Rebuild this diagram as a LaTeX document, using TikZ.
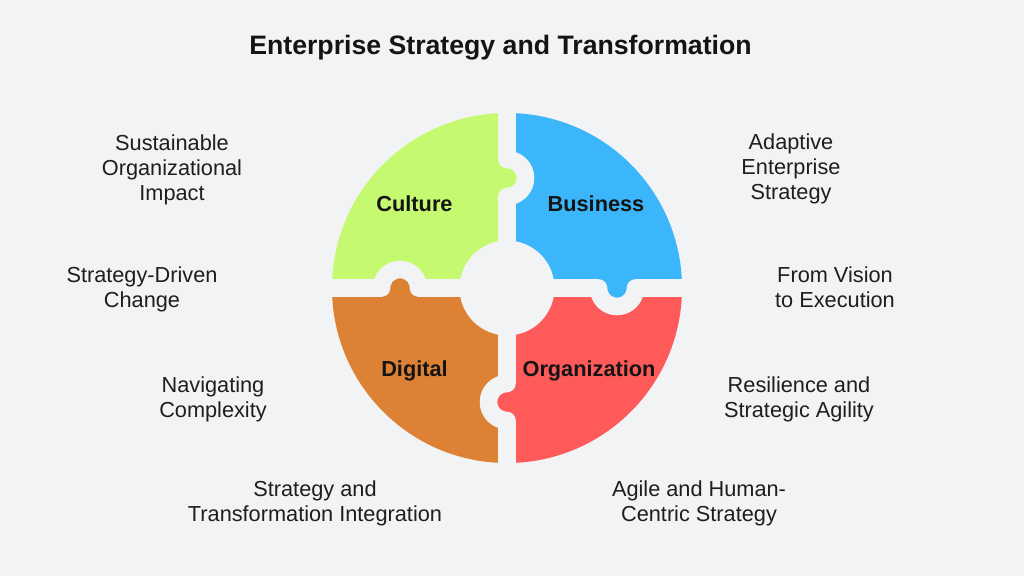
\documentclass[tikz,border=0pt]{standalone}
\usepackage{fontspec}
\setmainfont{Liberation Sans}
\definecolor{bg}{RGB}{241,243,244}
\definecolor{cgreen}{RGB}{197,249,112}
\definecolor{cblue}{RGB}{59,182,250}
\definecolor{corange}{RGB}{221,130,52}
\definecolor{cred}{RGB}{254,90,90}
\definecolor{txt}{RGB}{30,30,30}
\begin{document}
\begin{tikzpicture}[x=0.75pt,y=0.75pt,
  gapline/.style={draw=bg,line width=13.2pt,line join=round},
  sidelabel/.style={align=center,text=txt,anchor=base,inner sep=0pt,font=\fontsize{16.3}{18.75}\selectfont},
  piecelabel/.style={text=black!92,anchor=base,inner sep=0pt,font=\fontsize{16.3}{18.75}\selectfont\bfseries},
  titlelabel/.style={text=black!92,anchor=base,inner sep=0pt,font=\fontsize{20}{24}\selectfont\bfseries}]
\fill[bg] (0,0) rectangle (1024,576);
\useasboundingbox (0,0) rectangle (1024,576);
\coordinate (c) at (507,288);
% quadrants
\fill[cgreen] (c) -- (507,463) arc[start angle=90,end angle=180,radius=175] -- cycle;
\fill[cblue] (c) -- (682,288) arc[start angle=0,end angle=90,radius=175] -- cycle;
\fill[corange] (c) -- (332,288) arc[start angle=180,end angle=270,radius=175] -- cycle;
\fill[cred] (c) -- (507,113) arc[start angle=270,end angle=360,radius=175] -- cycle;
% tabs
\fill[cgreen] (507,398) circle[radius=18.5];
\fill[cblue] (617,288) circle[radius=18.5];
\fill[corange] (400,288) circle[radius=18.5];
\fill[cred] (507,174) circle[radius=18.5];
% gaps
\draw[gapline] (c) -- (507,379.5) arc[start angle=-90,end angle=90,radius=18.5] -- (507,490);
\draw[gapline] (c) -- (598.5,288) arc[start angle=180,end angle=360,radius=18.5] -- (710,288);
\draw[gapline] (c) -- (507,192.5) arc[start angle=90,end angle=270,radius=18.5] -- (507,86);
\draw[gapline] (c) -- (418.5,288) arc[start angle=0,end angle=180,radius=18.5] -- (304,288);
\fill[bg] (c) circle[radius=47.5];
% title
\node[titlelabel] (title) at (500.5,521.7) {Enterprise Strategy and Transformation};
% piece labels
\node[piecelabel] (culture) at (414.5,364.3) {Culture};
\node[piecelabel] (business) at (596,364.3) {Business};
\node[piecelabel] (digital) at (414.5,200) {Digital};
\node[piecelabel] (organization) at (589,200) {Organization};
% side labels (anchor base = baseline of last line)
\node[sidelabel] (l1) at (172,376) {Sustainable\\Organizational\\Impact};
\node[sidelabel] (l2) at (142,268.5) {Strategy-Driven\\Change};
\node[sidelabel] (l3) at (213,158.5) {Navigating\\Complexity};
\node[sidelabel] (l4) at (315,54.5) {Strategy and\\Transformation Integration};
\node[sidelabel] (r1) at (791,377) {Adaptive\\Enterprise\\Strategy};
\node[sidelabel] (r2) at (835,268.5) {From Vision\\to Execution};
\node[sidelabel] (r3) at (799,158.5) {Resilience and\\Strategic Agility};
\node[sidelabel] (r4) at (699,54.5) {Agile and Human-\\Centric Strategy};
\end{tikzpicture}
\end{document}
